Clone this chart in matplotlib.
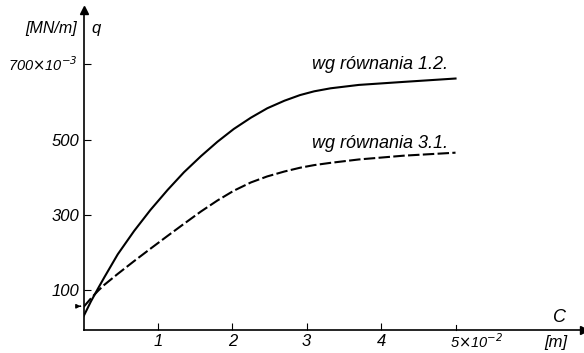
import matplotlib.pyplot as plt

# values: C in 10^-2 m, q in 10^-3 MN/m
c = [0, 0.1, 0.2, 0.28, 0.46, 0.68, 0.9, 1.13, 1.35, 1.58, 1.8, 2.02, 2.25, 2.47, 2.7, 2.91, 3.1, 3.32, 3.7, 4.3, 5.0]
q_12 = [30, 70, 106, 134, 195, 257, 313, 366, 413, 456, 494, 528, 558, 583, 603, 618, 628, 636, 645, 653, 662]
q_31 = [55, 78, 99, 114, 143, 177, 210, 244, 276, 309, 338, 364, 386, 402, 415, 425, 432, 438, 447, 457, 465]

x_ticks = [1, 2, 3, 4]
y_ticks = [100, 300, 500, 700]
y_mark = 57

plt.rcParams['font.family'] = ['Liberation Sans', 'DejaVu Sans']
plt.rcParams['font.style'] = 'italic'

fig = plt.figure(figsize=(5.84, 3.53), dpi=100)
ax = fig.add_axes([83.5 / 584, 23 / 353, 500 / 584, 320 / 353])
ax.set_xlim(0, 6.72)
ax.set_ylim(-6, 844)

ax.plot(c, q_12, color='black', lw=1.5)
ax.plot(c, q_31, color='black', lw=1.5, linestyle=(0, (5.5, 1.6)))

for s in ['top', 'right']:
    ax.spines[s].set_visible(False)
ax.spines['left'].set_linewidth(1.2)
ax.spines['bottom'].set_linewidth(1.2)

# arrow heads on the axes
ax.plot(1, 0, '>k', ms=6, transform=ax.transAxes, clip_on=False)
ax.plot(0, 1, '^k', ms=6, transform=ax.transAxes, clip_on=False)

ax.set_xticks(x_ticks)
ax.set_xticklabels([str(t) for t in x_ticks], fontsize=12)
ax.set_yticks(y_ticks)
ax.set_yticklabels(['100', '300', '500', ''], fontsize=12)
ax.tick_params(direction='in', length=5, width=0.8, pad=3)

ax.text(4.92, -12, r'5$\times$10$^{-2}$', fontsize=10.5, ha='left', va='top')
ax.plot([5, 5], [-6, 8], color='black', lw=0.8, clip_on=False)
ax.text(-0.08, 700, r'700$\times$10$^{-3}$', fontsize=10.5, ha='right', va='center')
ax.text(-0.08, 775, '[MN/m]', fontsize=11.5, ha='right', va='bottom')
ax.text(0.1, 775, 'q', fontsize=12, ha='left', va='bottom')
ax.text(6.4, 26, 'C', fontsize=13, ha='center', va='center')
ax.text(6.35, -20, '[m]', fontsize=12, ha='center', va='top')

ax.annotate('', xy=(0, y_mark), xytext=(-0.08, y_mark),
            arrowprops=dict(arrowstyle='-|>', color='black', lw=1, mutation_scale=6),
            annotation_clip=False)

ax.text(3.98, 700, 'wg równania 1.2.', fontsize=13, ha='center', va='center')
ax.text(3.98, 490, 'wg równania 3.1.', fontsize=13, ha='center', va='center')

fig.savefig('out.png', dpi=100)
